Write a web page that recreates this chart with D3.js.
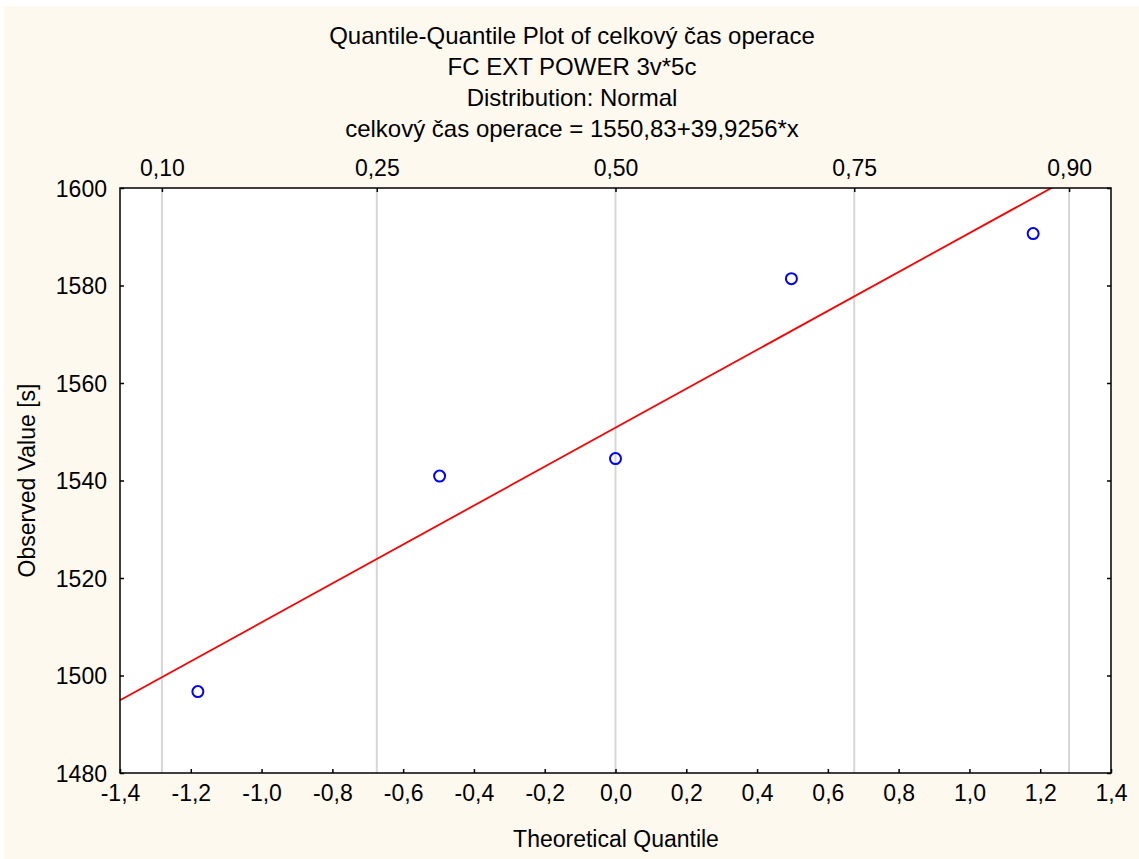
<!DOCTYPE html>
<html>
<head>
<meta charset="utf-8">
<script src="https://cdn.jsdelivr.net/npm/d3@7"></script>
<style>
  body { margin: 0; background: #ffffff; }
  text { font-family: "Liberation Sans", Arial, sans-serif; fill: #000; }
</style>
</head>
<body>
<svg id="chart" width="1139" height="859"></svg>
<script>
// data
const titleLines = [
	"Quantile-Quantile Plot of celkový čas operace",
	"FC EXT POWER 3v*5c",
	"Distribution: Normal",
	"celkový čas operace = 1550,83+39,9256*x"
];
const theoretical = [-1.18, -0.497, 0, 0.497, 1.18];
const observed = [1496.7, 1540.9, 1544.5, 1581.4, 1590.65];
const intercept = 1550.83;
const slope = 39.9256;
const xTicks = [-1.4, -1.2, -1.0, -0.8, -0.6, -0.4, -0.2, 0.0, 0.2, 0.4, 0.6, 0.8, 1.0, 1.2, 1.4];
const yTicks = [1480, 1500, 1520, 1540, 1560, 1580, 1600];
const probTicks = [0.10, 0.25, 0.50, 0.75, 0.90];

const svg = d3.select("#chart");
const width = +svg.attr("width");
const height = +svg.attr("height");

//cream frame
svg.append("rect")
	.attr("x", 4).attr("y", 6)
	.attr("width", width - 4).attr("height", height - 6)
	.attr("fill", "#fdf9ee");

const plot = { left: 120, top: 188, right: 1111, bottom: 773 };

const x = d3.scaleLinear().domain([-1.4, 1.4]).range([plot.left, plot.right]);
const y = d3.scaleLinear().domain([1480, 1600]).range([plot.bottom, plot.top]);

svg.append("rect")
	.attr("x", plot.left).attr("y", plot.top)
	.attr("width", plot.right - plot.left).attr("height", plot.bottom - plot.top)
	.attr("fill", "#ffffff");

//title
svg.append("g")
	.selectAll("text")
	.data(titleLines)
	.enter()
	.append("text")
	.attr("x", 572)
	.attr("y", (d, i) => 44 + i * 31)
	.attr("text-anchor", "middle")
	.style("font-size", "24px")
	.text((d) => d);

// inverse normal cdf (Acklam approximation)
function normInv(p) {
	const a = [-3.969683028665376e1, 2.209460984245205e2, -2.759285104469687e2, 1.38357751867269e2, -3.066479806614716e1, 2.506628277459239];
	const b = [-5.447609879822406e1, 1.615858368580409e2, -1.556989798598866e2, 6.680131188771972e1, -1.328068155288572e1];
	const c = [-7.784894002430293e-3, -3.223964580411365e-1, -2.400758277161838, -2.549732539343734, 4.374664141464968, 2.938163982698783];
	const d = [7.784695709041462e-3, 3.224671290700398e-1, 2.445134137142996, 3.754408661907416];
	const pl = 0.02425;
	let q, r;
	if (p < pl) {
		q = Math.sqrt(-2 * Math.log(p));
		return (((((c[0] * q + c[1]) * q + c[2]) * q + c[3]) * q + c[4]) * q + c[5]) / ((((d[0] * q + d[1]) * q + d[2]) * q + d[3]) * q + 1);
	}
	if (p > 1 - pl) {
		q = Math.sqrt(-2 * Math.log(1 - p));
		return -(((((c[0] * q + c[1]) * q + c[2]) * q + c[3]) * q + c[4]) * q + c[5]) / ((((d[0] * q + d[1]) * q + d[2]) * q + d[3]) * q + 1);
	}
	q = p - 0.5;
	r = q * q;
	return (((((a[0] * r + a[1]) * r + a[2]) * r + a[3]) * r + a[4]) * r + a[5]) * q / (((((b[0] * r + b[1]) * r + b[2]) * r + b[3]) * r + b[4]) * r + 1);
}
const qx = (p) => x(normInv(p));

//gridlines at normal quantiles
svg.append("g")
	.selectAll("line")
	.data(probTicks)
	.enter()
	.append("line")
	.attr("x1", qx).attr("x2", qx)
	.attr("y1", plot.top).attr("y2", plot.bottom)
	.attr("stroke", "#d6d6d6")
	.attr("stroke-width", 2);

const fmt = (v, dp) => v.toFixed(dp).replace(".", ",");

//axes
const bottomAxis = d3.axisBottom(x).tickValues(xTicks).tickSize(-4).tickPadding(12).tickFormat((d) => fmt(d, 1));
const leftAxis = d3.axisLeft(y).tickValues(yTicks).tickSize(-4).tickPadding(13).tickFormat((d) => d);
const rightAxis = d3.axisRight(y).tickValues(yTicks).tickSize(-4).tickFormat("");
const topAxis = d3.axisTop(x).tickValues(probTicks.map(normInv)).tickSize(-4).tickPadding(12)
	.tickFormat((d, i) => fmt(probTicks[i], 2));

function styleAxis(g) {
	g.select(".domain").remove();
	g.selectAll(".tick line").attr("stroke", "#000").attr("stroke-width", 1.5);
	g.selectAll("text").style("font-size", "23px").attr("fill", "#000").style("font-family", '"Liberation Sans", Arial, sans-serif');
}

svg.append("g").attr("transform", `translate(0,${plot.bottom})`).call(bottomAxis).call(styleAxis);
svg.append("g").attr("transform", `translate(${plot.left},0)`).call(leftAxis).call(styleAxis)
	.selectAll("text").attr("dy", "0.35em");
svg.append("g").attr("transform", `translate(${plot.right},0)`).call(rightAxis).call(styleAxis);
svg.append("g").attr("transform", `translate(0,${plot.top})`).call(topAxis).call(styleAxis);

//clip for the fit line
svg.append("clipPath").attr("id", "plotClip")
	.append("rect")
	.attr("x", plot.left).attr("y", plot.top)
	.attr("width", plot.right - plot.left).attr("height", plot.bottom - plot.top);

const xs = x.domain();
svg.append("line")
	.attr("clip-path", "url(#plotClip)")
	.attr("x1", x(xs[0])).attr("y1", y(intercept + slope * xs[0]))
	.attr("x2", x(xs[1])).attr("y2", y(intercept + slope * xs[1]))
	.attr("stroke", "#ff0000")
	.attr("stroke-width", 1.8);

//points
svg.append("g")
	.selectAll("circle")
	.data(theoretical)
	.enter()
	.append("circle")
	.attr("cx", (d) => x(d))
	.attr("cy", (d, i) => y(observed[i]))
	.attr("r", 5.5)
	.attr("fill", "none")
	.attr("stroke", "#0000ff")
	.attr("stroke-width", 2);

//frame
svg.append("rect")
	.attr("x", plot.left).attr("y", plot.top)
	.attr("width", plot.right - plot.left).attr("height", plot.bottom - plot.top)
	.attr("fill", "none")
	.attr("stroke", "#000")
	.attr("stroke-width", 1.5);

//axis titles
svg.append("text")
	.attr("x", 616)
	.attr("y", 847)
	.attr("text-anchor", "middle")
	.style("font-size", "23px")
	.text("Theoretical Quantile");

svg.append("text")
	.attr("transform", `translate(35,${(plot.top + plot.bottom) / 2}) rotate(-90)`)
	.attr("text-anchor", "middle")
	.style("font-size", "23px")
	.text("Observed Value [s]");
</script>
</body>
</html>
